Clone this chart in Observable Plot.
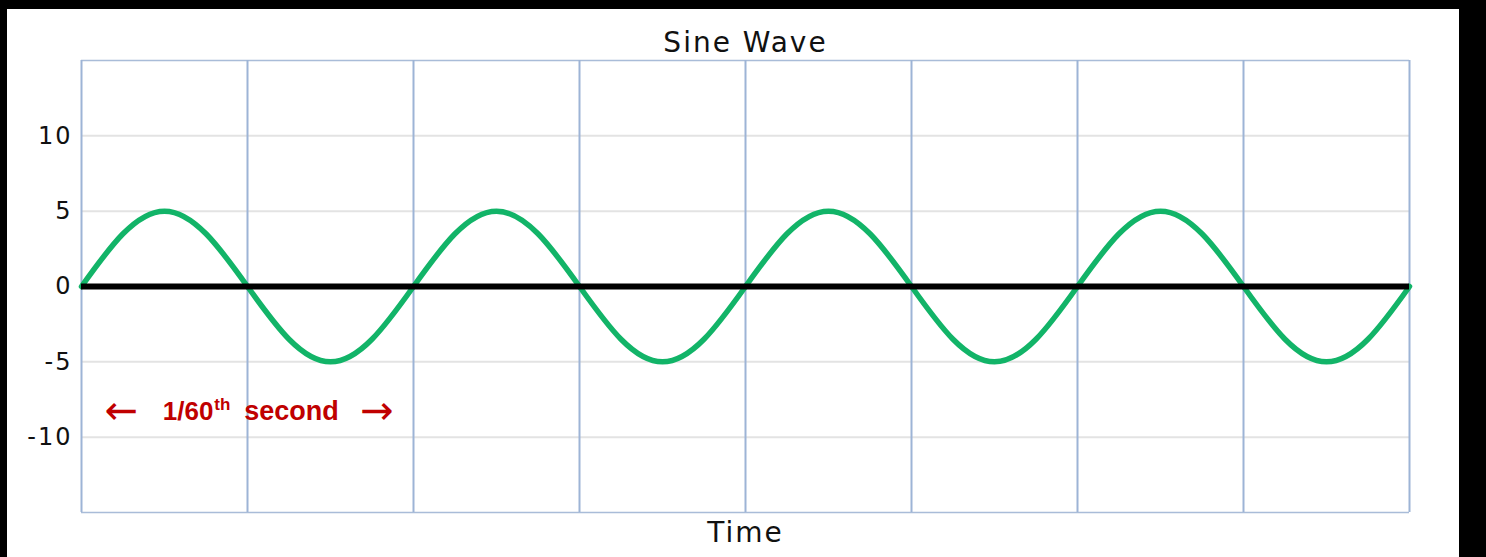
<!DOCTYPE html>
<html>
<head>
<meta charset="utf-8">
<script src="https://cdn.jsdelivr.net/npm/d3@7"></script>
<script src="https://cdn.jsdelivr.net/npm/@observablehq/plot@0.6"></script>
<style>
  html, body { margin: 0; padding: 0; background: #000; }
  #sheet { position: absolute; left: 7px; top: 9px; width: 1452px; height: 548px; background: #fff; }
  #chart { position: absolute; left: 0; top: 0; }
  .wide text { letter-spacing: 2px; }
</style>
</head>
<body>
<div id="sheet"></div>
<div id="chart"></div>
<script>
// grid divisions along the time axis (each one = 1/120 s)
const gridTimes = [0, 1, 2, 3, 4, 5, 6, 7, 8];
const yTicks = [-10, -5, 0, 5, 10];
const minorRows = [-10, -5, 5, 10];
const edgeRows = [-15, 15];

const waveTime = [
  0, 0.25, 0.5, 0.75, 1, 1.25, 1.5, 1.75,
  2, 2.25, 2.5, 2.75, 3, 3.25, 3.5, 3.75,
  4, 4.25, 4.5, 4.75, 5, 5.25, 5.5, 5.75,
  6, 6.25, 6.5, 6.75, 7, 7.25, 7.5, 7.75, 8,
];
const waveValue = [
  0, 3.5, 5, 3.5, 0, -3.5, -5, -3.5,
  0, 3.5, 5, 3.5, 0, -3.5, -5, -3.5,
  0, 3.5, 5, 3.5, 0, -3.5, -5, -3.5,
  0, 3.5, 5, 3.5, 0, -3.5, -5, -3.5, 0,
];

const titleText = "Sine Wave";
const xLabel = "Time";

const wave = waveTime.map((t, i) => ({ t, v: waveValue[i] }));
const red = "#c00000";
const noteFont = "'Liberation Sans', Arial, sans-serif";

const chart = Plot.plot({
  width: 1486,
  height: 557,
  marginLeft: 81,
  marginRight: 77,
  marginTop: 60,
  marginBottom: 45,
  style: { background: "transparent", fontFamily: "'DejaVu Sans', sans-serif", fontSize: "22px", color: "#111" },
  x: { domain: [0, 8], axis: null },
  y: { domain: [-15, 15], axis: null },
  marks: [
    Plot.ruleY(minorRows, { stroke: "#e3e3e3", strokeWidth: 2 }),
    Plot.ruleY(edgeRows, { stroke: "#a9bcd8", strokeWidth: 1.5 }),
    Plot.ruleX(gridTimes, { stroke: "#9db4d6", strokeWidth: 2 }),
    Plot.line(wave, { x: "t", y: "v", curve: "natural", stroke: "#12b468", strokeWidth: 5.5 }),
    Plot.ruleY([0], { stroke: "#000", strokeWidth: 6 }),
    Plot.axisY(yTicks, {
      tickSize: 0, tickPadding: 9, fontSize: 24, label: null,
      tickFormat: (d) => String(d), className: "wide", fill: "#111",
    }),
    //title and axis label
    Plot.text([titleText], { frameAnchor: "top", lineAnchor: "middle", dy: -17, fontSize: 28, fill: "#111", className: "wide" }),
    Plot.text([xLabel], { frameAnchor: "bottom", lineAnchor: "middle", dy: 21, fontSize: 28, fill: "#111", className: "wide" }),
    //red "1/60th second" note spanning two divisions
    Plot.text(["←"], { x: 0.24, y: -8.3, fontSize: 40, fill: red }),
    Plot.text(["→"], { x: 1.78, y: -8.3, fontSize: 40, fill: red }),
    Plot.text(["1/60"], { x: 0.795, y: -8.3, textAnchor: "end", fontSize: 26, fontWeight: "bold", fill: red, fontFamily: noteFont }),
    Plot.text(["th"], { x: 0.8, y: -8.3, dy: -7, textAnchor: "start", fontSize: 17, fontWeight: "bold", fill: red, fontFamily: noteFont }),
    Plot.text(["second"], { x: 0.98, y: -8.3, textAnchor: "start", fontSize: 27, fontWeight: "bold", fill: red, fontFamily: noteFont }),
  ],
});

document.getElementById("chart").appendChild(chart);
</script>
</body>
</html>
